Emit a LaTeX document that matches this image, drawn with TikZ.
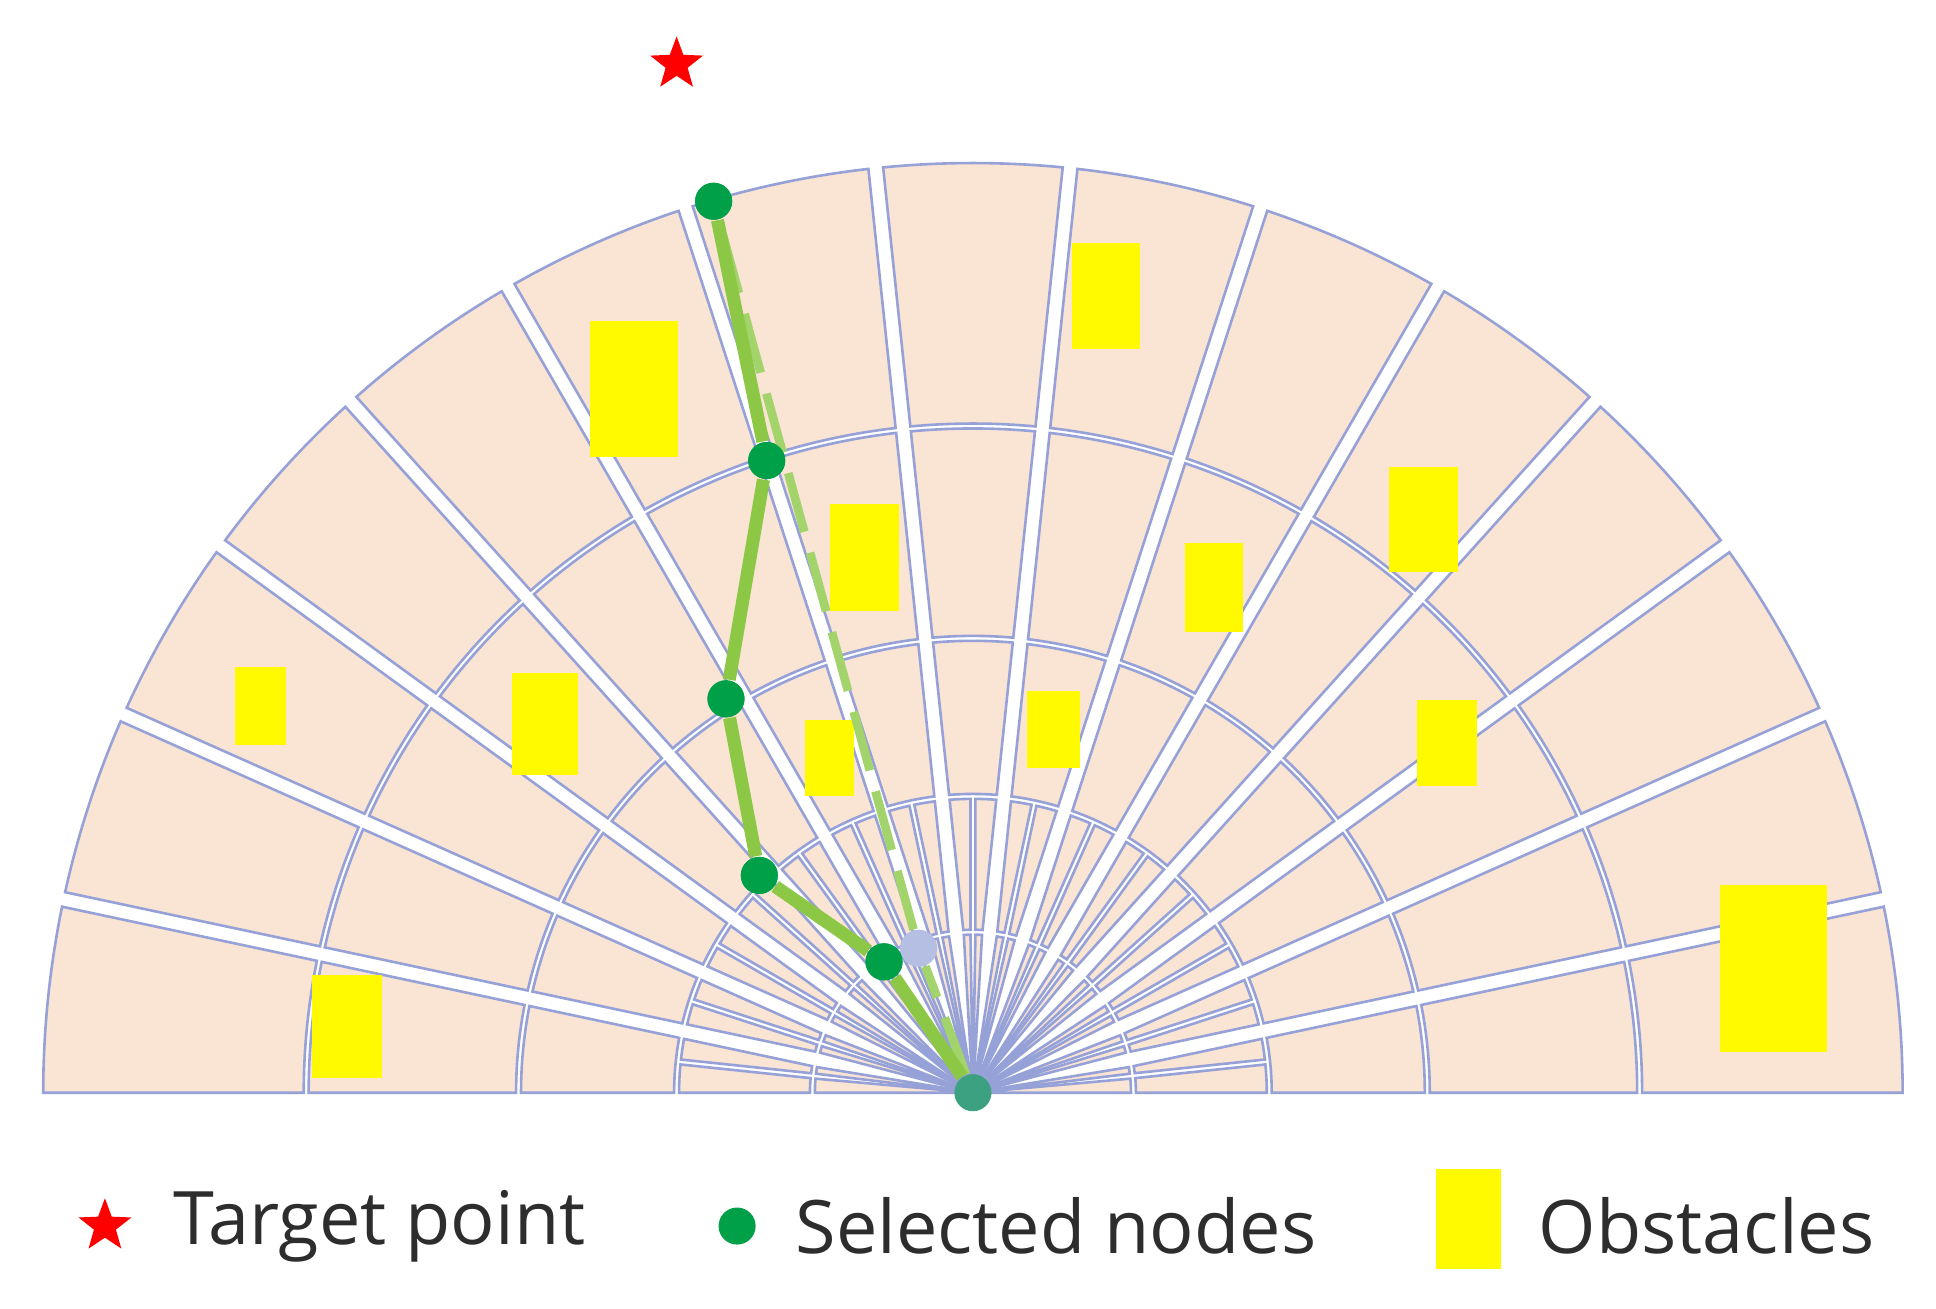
\documentclass[tikz,border=0pt]{standalone}
\usepackage{fontspec}
\setmainfont{Open Sans}
\usetikzlibrary{shapes.geometric}
\definecolor{peach}{RGB}{250,228,212}
\definecolor{gridblue}{RGB}{150,162,215}
\definecolor{pathgreen}{RGB}{140,200,70}
\definecolor{nodegreen}{RGB}{0,160,72}
\definecolor{obstyellow}{RGB}{255,250,0}
\definecolor{textgray}{RGB}{45,45,45}
\tikzset{
  cell/.style={fill=peach,draw=gridblue,line width=0.6pt},
  obst/.style={fill=obstyellow,draw=none},
  sel/.style={circle,fill=nodegreen,inner sep=0pt,minimum size=0.3cm},
  legend/.style={anchor=west,text=textgray,font=\fontsize{17}{20}\selectfont}
}
\begin{document}
\begin{tikzpicture}[x=0.01cm,y=0.01cm]
  \useasboundingbox (-788,-175) rectangle (780,885);
  % fan of cells
  \foreach \k in {0,...,14}{
    \foreach \ri/\ro/\n in {0/130/2,130/240/2,240/368/1,368/540/1,540/755/1}{
      \foreach \j in {1,...,\n}{
        \pgfmathsetmacro\aa{12*\k+12*(\j-1)/\n}
        \pgfmathsetmacro\ab{12*\k+12*\j/\n}
        \pgfmathsetmacro\ga{(\k==0 && \j==1) ? 0 : (\j==1 ? 6 : 2)}
        \pgfmathsetmacro\gb{(\k==14 && \j==\n) ? 0 : (\j==\n ? 6 : 2)}
        \pgfmathsetmacro\rin{\ri+2}
        \pgfmathsetmacro\rout{\ro-2}
        \pgfmathsetmacro\sai{\ri==0 ? 0 : deg(\ga/\rin)}
        \pgfmathsetmacro\sbi{\ri==0 ? 0 : deg(\gb/\rin)}
        \pgfmathsetmacro\sao{deg(\ga/\rout)}
        \pgfmathsetmacro\sbo{deg(\gb/\rout)}
        \draw[cell] (\aa+\sai:\rin) -- (\aa+\sao:\rout)
          arc[start angle=\aa+\sao, end angle=\ab-\sbo, radius=\rout]
          -- (\ab-\sbi:\rin)
          arc[start angle=\ab-\sbi, end angle=\aa+\sai, radius=\rin] -- cycle;
      }
    }
  }
  % obstacles
  \foreach \xa/\ya/\xb/\yb in {868/197/923/283, 478/260/549/370, 672/408/728/495,
      1125/378/1181/463, 960/440/1007/512, 190/540/232/603, 415/545/468/628,
      652/583/692/645, 832/560/875/622, 1148/567/1196/637, 1393/717/1480/852,
      253/790/309/873}
    \fill[obst] (\xa-788,885-\ya) rectangle (\xb-788,885-\yb);
  % path nodes
  \node[circle,fill=nodegreen!60!gridblue,inner sep=0pt,minimum size=0.3cm] (n0) at (0,0) {};
  \node[sel] (n1) at (-72,106) {};
  \node[sel] (n2) at (-173,176) {};
  \node[sel] (n3) at (-200,319) {};
  \node[sel] (n4) at (-167,512) {};
  \node[sel] (n5) at (-210,722) {};
  \node[circle,fill=gridblue!70,inner sep=0pt,minimum size=0.3cm] (m1) at (-44,117) {};
  \draw[pathgreen!80,line width=2pt,dash pattern=on 14pt off 5pt] (n0) -- (m1) -- (n5);
  \draw[pathgreen,line width=3pt] (n0) -- (n1) -- (n2) -- (n3) -- (n4) -- (n5);
  \foreach \p in {n1,n2,n3,n4,n5} \node[sel] at (\p) {};
  \node[star,star points=5,star point ratio=2.4,fill=red,inner sep=0pt,minimum size=0.45cm] (goal) at (-240,833) {};
  % legend
  \node[star,star points=5,star point ratio=2.4,fill=red,inner sep=0pt,minimum size=0.45cm] (ls) at (-703,-108) {};
  \node[legend] (lt) at (-660,-108) {Target point};
  \node[sel] (ln) at (-191,-108) {};
  \node[legend] (lnt) at (-156,-108) {Selected nodes};
  \fill[obst] (375,-62) rectangle (428,-143);
  \node[legend] (lo) at (446,-108) {Obstacles};
\end{tikzpicture}
\end{document}
